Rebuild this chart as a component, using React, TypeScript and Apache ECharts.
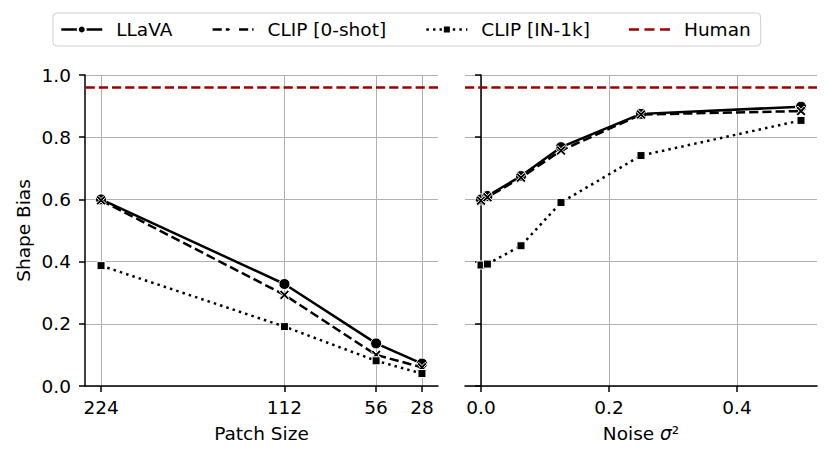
import React, { useEffect, useRef } from "react";
import * as echarts from "echarts";

// ---- Data ----
const patchSizes = [224, 112, 56, 28];
const patchLLaVA = [0.6, 0.328, 0.137, 0.072];
const patchClip0 = [0.597, 0.293, 0.1, 0.06];
const patchClipIN = [0.387, 0.191, 0.081, 0.04];

const noiseLevels = [0, 0.01, 0.0625, 0.125, 0.25, 0.5];
const noiseLLaVA = [0.6, 0.611, 0.675, 0.768, 0.875, 0.898];
const noiseClip0 = [0.596, 0.607, 0.67, 0.757, 0.873, 0.884];
const noiseClipIN = [0.389, 0.392, 0.451, 0.59, 0.741, 0.854];

const humanBias = 0.96;

const patchTicks = [224, 112, 56, 28];
const noiseTicks = [0, 0.2, 0.4];
const yTicks = [0, 0.2, 0.4, 0.6, 0.8, 1.0];

const FONT = "DejaVu Sans";
const FS = 18.5;
const RED = "#9b0000";
const LW = 2.5;
const DASH = [9.2, 4];
const DOT = [2.5, 4.1];
const X_SYMBOL =
  "path://M0,1.8L1.8,0L5,3.2L8.2,0L10,1.8L6.8,5L10,8.2L8.2,10L5,6.8L1.8,10L0,8.2L3.2,5Z";
const HUMAN_ICON =
  "path://M0,3.75H10V6.25H0Z M15.5,3.75H25.5V6.25H15.5Z M31,3.75H41V6.25H31Z M0,0H0.01V0.01H0Z M40.99,9.99H41V10H40.99Z";

const zip = (xs: number[], ys: number[]) => xs.map((x, i) => [x, ys[i]]);

export default function App() {
  const ref = useRef<HTMLDivElement>(null);
  useEffect(() => {
    if (!ref.current) return;
    const chart = echarts.init(ref.current, null, { renderer: "svg" });

    const axisLine = { show: true, lineStyle: { color: "#000", width: 1.5 } };
    const axisTickBase = { show: true, length: 6, lineStyle: { color: "#000", width: 1.5 } };
    const splitLine = { show: true, lineStyle: { color: "#b0b0b0", width: 1 } };
    const labelStyle = { fontFamily: FONT, fontSize: FS, color: "#000" };

    const seriesDefs = [
      { name: "LLaVA", symbol: "circle", size: 11, dash: "solid" as any },
      { name: "CLIP [0-shot]", symbol: X_SYMBOL, size: 10, dash: DASH },
      { name: "CLIP [IN-1k]", symbol: "rect", size: 8, dash: DOT },
    ];
    const leftData = [patchLLaVA, patchClip0, patchClipIN];
    const rightData = [noiseLLaVA, noiseClip0, noiseClipIN];

    const series: any[] = [];
    [0, 1].forEach((gi) => {
      seriesDefs.forEach((d, si) => {
        series.push({
          type: "line",
          name: d.name,
          xAxisIndex: gi,
          yAxisIndex: gi,
          data: gi === 0 ? zip(patchSizes, leftData[si]) : zip(noiseLevels, rightData[si]),
          symbol: d.symbol,
          symbolSize: d.size,
          showSymbol: true,
          z: 3 + si,
          lineStyle: { color: "#000", width: LW, type: d.dash, cap: "butt" },
          itemStyle: { color: "#000", borderColor: "#fff", borderWidth: 1 },
        });
      });
      series.push({
        type: "line",
        name: "Human",
        xAxisIndex: gi,
        yAxisIndex: gi,
        data: [],
        symbol: "none",
        z: 2,
        lineStyle: { color: RED, width: LW, type: DASH },
        itemStyle: { color: RED },
        markLine: {
          silent: true,
          symbol: "none",
          label: { show: false },
          lineStyle: { color: RED, width: LW, type: DASH },
          data: [{ yAxis: humanBias }],
        },
      });
    });

    chart.setOption({
      animation: false,
      backgroundColor: "#fff",
      legend: {
        left: 53,
        top: 13,
        itemWidth: 41,
        itemHeight: 10,
        itemGap: 39,
        padding: [7, 10, 7, 7],
        borderColor: "#d0d0d0",
        borderWidth: 1,
        borderRadius: 4,
        lineStyle: { width: LW },
        textStyle: { fontFamily: FONT, fontSize: FS, color: "#000", padding: [0, 0, 0, 9] },
        data: [
          { name: "LLaVA" },
          { name: "CLIP [0-shot]" },
          { name: "CLIP [IN-1k]" },
          { name: "Human", icon: HUMAN_ICON },
        ],
      },
      grid: [
        { left: 85, top: 75, width: 353, height: 311 },
        { left: 465, top: 75, width: 352, height: 311 },
      ],
      xAxis: [
        {
          type: "value",
          gridIndex: 0,
          inverse: true,
          min: 18.2,
          max: 233.8,
          name: "Patch Size",
          nameLocation: "middle",
          nameGap: 38,
          nameTextStyle: labelStyle,
          axisLine,
          axisTick: { ...axisTickBase, customValues: patchTicks },
          axisLabel: { ...labelStyle, margin: 12, customValues: patchTicks },
          splitLine,
        },
        {
          type: "value",
          gridIndex: 1,
          min: -0.025,
          max: 0.525,
          name: "Noise {s|σ}²",
          nameLocation: "middle",
          nameGap: 38,
          nameTextStyle: { ...labelStyle, rich: { s: { ...labelStyle, fontStyle: "italic" } } },
          axisLine,
          axisTick: { ...axisTickBase, customValues: noiseTicks },
          axisLabel: {
            ...labelStyle,
            margin: 12,
            customValues: noiseTicks,
            formatter: (v: number) => v.toFixed(1),
          },
          splitLine,
        },
      ],
      yAxis: [
        {
          type: "value",
          gridIndex: 0,
          min: 0,
          max: 1,
          interval: 0.2,
          name: "Shape Bias",
          nameLocation: "middle",
          nameGap: 52,
          nameTextStyle: labelStyle,
          axisLine,
          axisTick: { ...axisTickBase, customValues: yTicks },
          axisLabel: { ...labelStyle, margin: 14, formatter: (v: number) => v.toFixed(1) },
          splitLine,
        },
        {
          type: "value",
          gridIndex: 1,
          min: 0,
          max: 1,
          interval: 0.2,
          axisLine,
          axisTick: { ...axisTickBase },
          axisLabel: { show: false },
          splitLine,
        },
      ],
      series,
    });
    return () => chart.dispose();
  }, []);
  return (
    <div
      ref={ref}
      style={{ position: "absolute", left: 0, top: 0, width: 831, height: 462 }}
    />
  );
}
